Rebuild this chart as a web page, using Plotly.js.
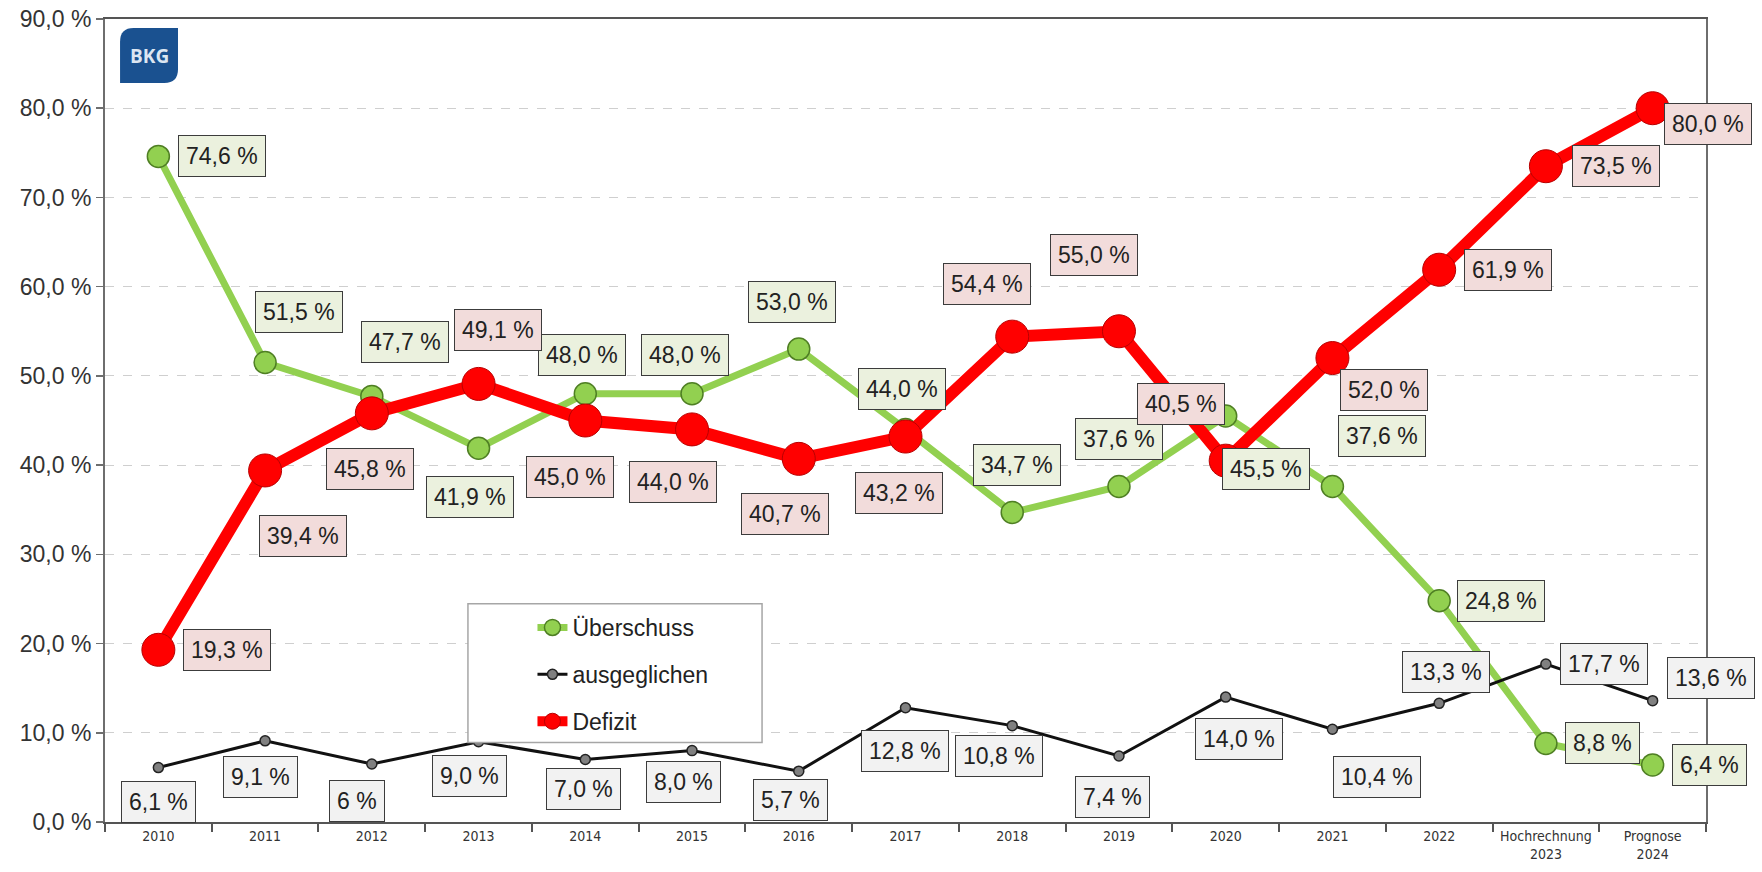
<!DOCTYPE html>
<html>
<head>
<meta charset="utf-8">
<script src="https://cdn.plot.ly/plotly-3.0.1.min.js"></script>
<style>
  html, body { margin: 0; padding: 0; background: #ffffff; }
  #chart { width: 1762px; height: 872px; }
</style>
</head>
<body>
<div id="chart"></div>
<script>
// ---------- data ----------
const categories = ['2010', '2011', '2012', '2013', '2014', '2015', '2016', '2017',
  '2018', '2019', '2020', '2021', '2022', 'Hochrechnung<br>2023', 'Prognose<br>2024'];
const ueberschuss = [74.6, 51.5, 47.7, 41.9, 48.0, 48.0, 53.0, 44.0, 34.7, 37.6, 45.5, 37.6, 24.8, 8.8, 6.4];
const ausgeglichen = [6.1, 9.1, 6.5, 9.0, 7.0, 8.0, 5.7, 12.8, 10.8, 7.4, 14.0, 10.4, 13.3, 17.7, 13.6];
const ausgeglichenLabels = ['6,1 %', '9,1 %', '6 %', '9,0 %', '7,0 %', '8,0 %', '5,7 %', '12,8 %',
  '10,8 %', '7,4 %', '14,0 %', '10,4 %', '13,3 %', '17,7 %', '13,6 %'];
const defizit = [19.3, 39.4, 45.8, 49.1, 45.0, 44.0, 40.7, 43.2, 54.4, 55.0, 40.5, 52.0, 61.9, 73.5, 80.0];
const yTickValues = [0, 10, 20, 30, 40, 50, 60, 70, 80, 90];
const seriesNames = ['Überschuss', 'ausgeglichen', 'Defizit'];
const logoText = 'BKG';

// ---------- helpers ----------
const fmt = v => v.toFixed(1).replace('.', ',') + ' %';
const yTickText = yTickValues.map(fmt);

// label offsets in pixels [dx, dy-down] (layout only)
const offU = [[64,0],[34,-51],[33,-54],[-9,49],[-3,-39],[-7,-39],[-7,-47],[-4,-40],[5,-47],[0,-48],[40,53],[50,-51],[62,0],[57,0],[57,0]];
const offD = [[69,0],[38,66],[-2,56],[19,-54],[-15,56],[-19,53],[-14,55],[-7,56],[-25,-53],[-25,-76],[-45,-57],[52,32],[69,0],[70,0],[55,16]];
const offA = [[0,34],[-5,36],[-15,37],[-9,34],[-2,29],[-9,31],[-8,29],[-1,43],[-13,30],[-6,41],[13,42],[45,48],[7,-31],[58,0],[58,-23]];

const FONT = 'Liberation Sans, Arial, Helvetica, sans-serif';

const traces = [
  {
    type: 'scatter', mode: 'lines+markers', name: seriesNames[0], legendgroup: 'g1',
    x: categories, y: ueberschuss,
    line: { color: '#92d050', width: 7 },
    marker: { color: '#92d050', size: 22, line: { color: '#4f7f24', width: 1.5 } },
    cliponaxis: false
  },
  {
    type: 'scatter', mode: 'lines+markers', name: seriesNames[1], legendgroup: 'g2',
    x: categories, y: ausgeglichen,
    line: { color: '#111111', width: 3 },
    marker: { color: '#808080', size: 10, line: { color: '#222222', width: 1.5 } },
    cliponaxis: false
  },
  {
    type: 'scatter', mode: 'lines+markers', name: seriesNames[2], legendgroup: 'g3',
    x: categories, y: defizit,
    line: { color: '#ff0000', width: 12 },
    marker: { color: '#ff0000', size: 33, line: { color: '#b80000', width: 1 } },
    cliponaxis: false
  }
];

function makeLabels(values, texts, offsets, bg) {
  return values.map((v, i) => ({
    x: i, y: v, xref: 'x', yref: 'y',
    text: texts[i], showarrow: false,
    xanchor: 'center', yanchor: 'middle',
    xshift: offsets[i][0], yshift: -offsets[i][1],
    font: { family: FONT, size: 23, color: '#222222' },
    bgcolor: bg, bordercolor: '#3c3c3c', borderwidth: 1, borderpad: 7
  }));
}

const annotations = []
  .concat(makeLabels(ueberschuss, ueberschuss.map(fmt), offU, '#ebf1de'))
  .concat(makeLabels(defizit, defizit.map(fmt), offD, '#f2dcdb'))
  .concat(makeLabels(ausgeglichen, ausgeglichenLabels, offA, '#f2f2f2'));

annotations.push({
  x: 0.0275, y: 0.9545, xref: 'paper', yref: 'paper', showarrow: false,
  xanchor: 'center', yanchor: 'middle',
  text: '<b>' + logoText + '</b>',
  font: { family: 'Open Sans, Liberation Sans, Arial, sans-serif', size: 19, color: '#dce6f2' }
});

// logo shape (rounded top-left and bottom-right)
const lx0 = 0.0094, lx1 = 0.0456, ly0 = 0.9203, ly1 = 0.9888, rx = 0.0085, ry = 0.017;
const logoPath = `M ${lx0} ${ly0} L ${lx0} ${ly1 - ry} Q ${lx0} ${ly1} ${lx0 + rx} ${ly1} L ${lx1} ${ly1} ` +
  `L ${lx1} ${ly0 + ry} Q ${lx1} ${ly0} ${lx1 - rx} ${ly0} Z`;

const layout = {
  width: 1762, height: 872,
  margin: { l: 105, r: 56, t: 19, b: 50 },
  paper_bgcolor: '#ffffff', plot_bgcolor: '#ffffff',
  font: { family: FONT, color: '#222222' },
  showlegend: true,
  legend: {
    x: 0.267, y: 0.269, xanchor: 'left', yanchor: 'top',
    bgcolor: 'rgba(0,0,0,0)', borderwidth: 0,
    font: { family: FONT, size: 23, color: '#222222' },
    traceorder: 'grouped', tracegroupgap: 14
  },
  xaxis: {
    type: 'category', categoryorder: 'array', categoryarray: categories,
    range: [-0.5, 14.5], fixedrange: true,
    showline: true, linecolor: '#555555', linewidth: 2, mirror: true,
    ticks: 'outside', tickson: 'boundaries', ticklen: 8, tickcolor: '#555555', tickwidth: 2,
    showgrid: false, tickangle: 0,
    tickfont: { family: 'Liberation Sans Narrow, Arial Narrow, DejaVu Sans Condensed, sans-serif', size: 14, color: '#333333' }
  },
  yaxis: {
    range: [0, 90], fixedrange: true,
    tickvals: yTickValues, ticktext: yTickText,
    showline: true, linecolor: '#6e6e6e', linewidth: 2, mirror: true,
    ticks: 'outside', ticklen: 7, tickcolor: '#6e6e6e', tickwidth: 1.5,
    showgrid: true, gridcolor: '#cfcfcf', griddash: 'dash', gridwidth: 1,
    zeroline: false,
    tickfont: { family: FONT, size: 23, color: '#333333' }
  },
  shapes: [
    {
      type: 'rect', xref: 'paper', yref: 'paper',
      x0: 0.2267, x1: 0.4104, y0: 0.0989, y1: 0.2719,
      line: { color: '#a6a6a6', width: 1.5 }, fillcolor: '#ffffff', layer: 'above'
    },
    {
      type: 'path', xref: 'paper', yref: 'paper', path: logoPath,
      fillcolor: '#1a5190', line: { width: 0 }, layer: 'above'
    }
  ],
  annotations: annotations
};

Plotly.newPlot('chart', traces, layout, { staticPlot: true, displayModeBar: false });
</script>
</body>
</html>
